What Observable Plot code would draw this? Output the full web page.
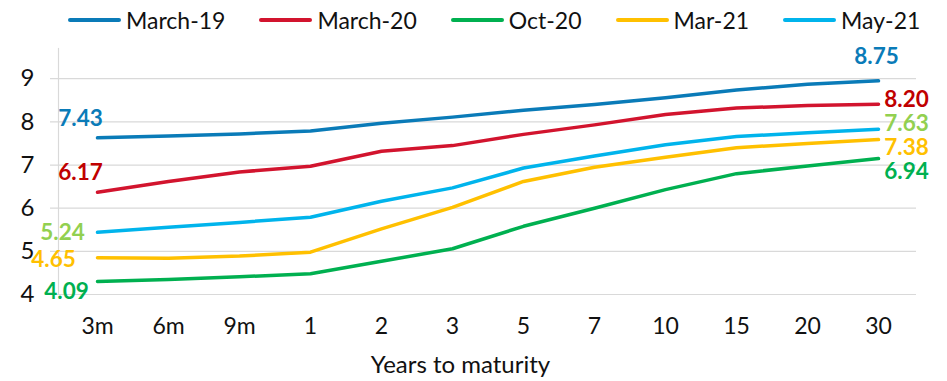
<!DOCTYPE html>
<html>
<head>
<meta charset="utf-8">
<script src="https://cdn.jsdelivr.net/npm/d3@7"></script>
<script src="https://cdn.jsdelivr.net/npm/@observablehq/plot@0.6"></script>
<style>
  html, body { margin: 0; padding: 0; background: #fff; }
  body { width: 947px; height: 381px; overflow: hidden; font-family: Lato, "Open Sans", sans-serif; }
  #legend { height: 40px; display: flex; flex-wrap: nowrap; white-space: nowrap; align-items: center; padding-left: 68px; box-sizing: border-box; font-size: 23px; color: #111; }
  .item { display: flex; flex: 0 0 auto; align-items: center; margin-right: 34px; white-space: nowrap; }
  .sw { width: 53px; height: 4px; margin-right: 5px; border-radius: 2px; flex: 0 0 auto; }
</style>
</head>
<body>
<div id="legend"></div>
<div id="chart"></div>
<script>
const categories = ["3m", "6m", "9m", "1", "2", "3", "5", "7", "10", "15", "20", "30"];
const seriesNames = ["March-19", "March-20", "Oct-20", "Mar-21", "May-21"];
const march19 = [7.63, 7.67, 7.72, 7.79, 7.97, 8.11, 8.27, 8.40, 8.56, 8.74, 8.87, 8.95];
const march20 = [6.37, 6.62, 6.84, 6.97, 7.32, 7.45, 7.71, 7.93, 8.17, 8.32, 8.38, 8.41];
const oct20   = [4.30, 4.35, 4.41, 4.48, 4.77, 5.06, 5.58, 6.00, 6.43, 6.80, 6.98, 7.15];
const mar21   = [4.85, 4.84, 4.89, 4.98, 5.52, 6.02, 6.62, 6.95, 7.18, 7.40, 7.50, 7.59];
const may21   = [5.44, 5.56, 5.67, 5.79, 6.16, 6.47, 6.93, 7.21, 7.47, 7.66, 7.75, 7.83];
const startLabels = ["7.43", "6.17", "4.09", "4.65", "5.24"];
const endLabels   = ["8.75", "8.20", "6.94", "7.38", "7.63"];
const yTicks = [4, 5, 6, 7, 8, 9];

// styles
const lineColors  = ["#0A7BB8", "#D2142E", "#00B050", "#FFC000", "#00B4EC"];
const labelColors = ["#0A7BB8", "#C00000", "#00B050", "#FFC000", "#92D050"];
const startOff = [[-17, -19], [-17, -19], [-31, 10], [-44, 2], [-35, 0]];
const endOff   = [[-2, -24], [28, -4], [28, 13], [28, 8], [28, -5]];

const allSeries = [march19, march20, oct20, mar21, may21];
const data = [];
allSeries.forEach((vals, s) => vals.forEach((v, i) => data.push({series: seriesNames[s], cat: categories[i], value: v})));

// legend
const legend = document.getElementById("legend");
seriesNames.forEach((n, i) => {
  const it = document.createElement("div");
  it.className = "item";
  it.innerHTML = `<span class="sw" style="background:${lineColors[i]}"></span><span>${n}</span>`;
  legend.appendChild(it);
});

const marks = [
  Plot.ruleY(yTicks, {stroke: "#d9d9d9", strokeWidth: 1.2, insetLeft: -8}),
  Plot.frame({anchor: "left", stroke: "#d9d9d9", strokeWidth: 1.2}),
  Plot.axisY({ticks: yTicks, tickFormat: d => String(d), tickSize: 0, tickPadding: 24, fontSize: 24, label: null}),
  Plot.axisX({tickSize: 0, tickPadding: 23, fontSize: 23, label: null}),
  Plot.text(["Years to maturity"], {frameAnchor: "bottom", dy: 78, dx: -27, fontSize: 24, fill: "#111"}),
  Plot.line(data, {x: "cat", y: "value", z: "series", stroke: "series", strokeWidth: 3.5})
];
seriesNames.forEach((n, s) => {
  const vals = allSeries[s];
  marks.push(Plot.text([{cat: categories[0], value: vals[0], t: startLabels[s]}],
    {x: "cat", y: "value", text: "t", fill: labelColors[s], fontWeight: "bold", fontSize: 22.5, dx: startOff[s][0], dy: startOff[s][1]}));
  const last = categories.length - 1;
  marks.push(Plot.text([{cat: categories[last], value: vals[last], t: endLabels[s]}],
    {x: "cat", y: "value", text: "t", fill: labelColors[s], fontWeight: "bold", fontSize: 22.5, dx: endOff[s][0], dy: endOff[s][1]}));
});

const chart = Plot.plot({
  width: 947,
  height: 341,
  marginLeft: 58,
  marginRight: 31,
  marginTop: 8,
  marginBottom: 87,
  style: {fontFamily: "Lato, 'Open Sans', sans-serif", color: "#111", background: "#fff"},
  x: {type: "point", domain: categories, padding: 0.5},
  y: {domain: [4, 9.7]},
  color: {domain: seriesNames, range: lineColors},
  marks
});
document.getElementById("chart").appendChild(chart);
</script>
</body>
</html>
